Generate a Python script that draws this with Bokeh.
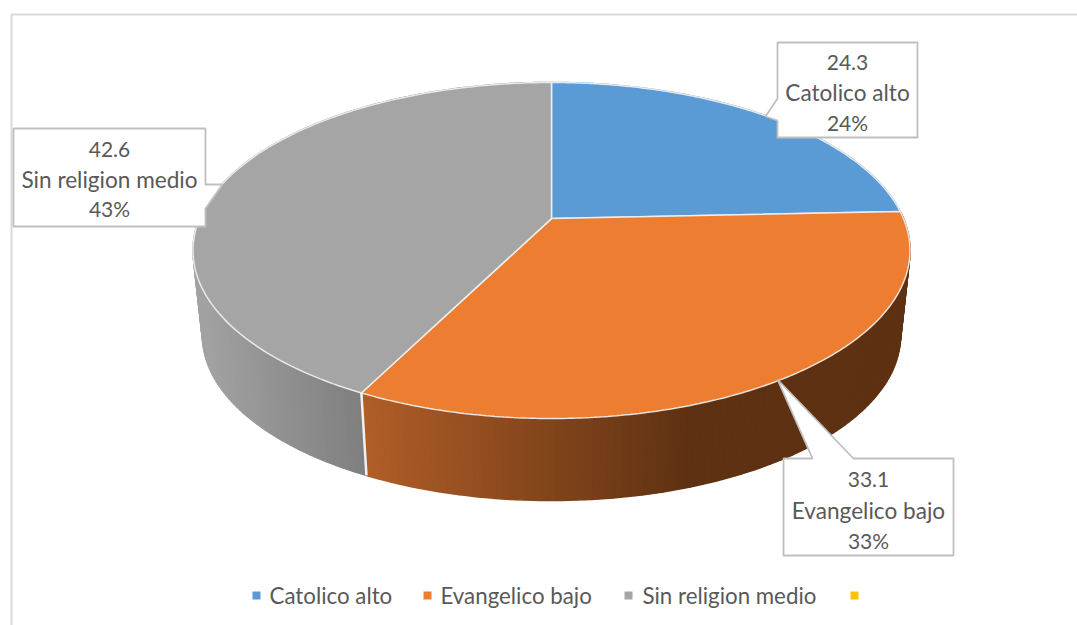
import numpy as np
from bokeh.plotting import figure
from bokeh.models import Range1d
from bokeh.core.properties import value
from bokeh.embed import file_html
from bokeh.resources import INLINE

categories = ["Catolico alto", "Evangelico bajo", "Sin religion medio", ""]
values = [24.3, 33.1, 42.6, 0.0]
percent_labels = ["24%", "33%", "43%"]
colors = ["#5B9BD5", "#ED7D31", "#A5A5A5", "#FFC000"]

W, H = 1077, 625
FONT = "Lato"
TXT = "#595959"
EDGE = "#BFBFBF"

# pie geometry in page pixels
CX, TOP_CY, TOP_RX, TOP_RY = 551.0, 250.0, 358.5, 168.0
BOT_CY, BOT_RX, BOT_RY = 335.0, 349.0, 165.0
K = 0.19  # perspective shift of the pie centre


def proj(theta, cy, rx, ry):
    """theta: radians clockwise from the top of the pie."""
    u, v = np.sin(theta), np.cos(theta)
    den = 1 + K * v
    uu = u * np.sqrt(1 - K * K) / den
    vv = (v + K) / den
    return CX + rx * uu, cy - ry * vv


def hex2rgb(h):
    return np.array([int(h[i:i + 2], 16) for i in (1, 3, 5)], float)


def mix(a, b, t):
    t = min(1.0, max(0.0, t))
    c = hex2rgb(a) * (1 - t) + hex2rgb(b) * t
    return "#%02x%02x%02x" % tuple(int(round(x)) for x in c)


def wall_color(i, x):
    if i == 1:
        return mix("#B05E27", "#5E3112", (x - 361) / 330)
    if i == 2:
        return mix("#A2A2A2", "#7E7E7E", (x - 200) / 165)
    return colors[i]


p = figure(width=W, height=H, output_backend="svg", toolbar_location=None,
           x_range=Range1d(0, W), y_range=Range1d(H, 0),
           x_axis_location=None, y_axis_location=None, tools="", min_border=0,
           outline_line_color=None, background_fill_color="white",
           border_fill_color="white")
p.grid.visible = False

# chart frame
p.line([11, 11, W], [H, 14, 14], line_color="#D9D9D9", line_width=2)

total = sum(values)
bounds = np.concatenate([[0], np.cumsum(values) / total * 2 * np.pi])

# side wall
wx, wy, wc = [], [], []
for i in range(3):
    a0, a1 = bounds[i], bounds[i + 1]
    n = max(2, int((a1 - a0) / np.radians(1.0)))
    t = np.linspace(a0, a1, n + 1)
    for j in range(n):
        th = np.array([t[j], t[j + 1]])
        xa, ya = proj(th, TOP_CY, TOP_RX, TOP_RY)
        xb, yb = proj(th[::-1], BOT_CY, BOT_RX, BOT_RY)
        wx.append(list(xa) + list(xb))
        wy.append(list(ya) + list(yb))
        wc.append(wall_color(i, float(xa.mean())))
p.patches(wx, wy, fill_color=wc, line_color=wc, line_width=1.6)

# light seam between wall sections
sx0, sy0 = proj(bounds[2], TOP_CY, TOP_RX, TOP_RY)
sx1, sy1 = proj(bounds[2], BOT_CY, BOT_RX, BOT_RY)
p.line([sx0, sx1], [sy0, sy1], line_color="#F0F0F0", line_width=2.5)

# top face
apex_y = TOP_CY - TOP_RY * K
for i in range(3):
    t = np.linspace(bounds[i], bounds[i + 1], 200)
    x, y = proj(t, TOP_CY, TOP_RX, TOP_RY)
    p.patch(np.r_[CX, x], np.r_[apex_y, y], fill_color=colors[i],
            line_color="#F2F2F2", line_width=1.5, line_alpha=0.9)

# data label call-outs: outline polygon and text centre
callouts = [
    dict(poly=[(777, 42), (917, 42), (917, 137), (777, 137), (777, 120), (765, 116), (777, 98)],
         cx=847, ys=[62, 92, 122]),
    dict(poly=[(783, 458), (812, 458), (777, 379), (853, 458), (953, 458), (953, 555), (783, 555)],
         cx=868, ys=[479, 510, 540]),
    dict(poly=[(13, 128), (205, 128), (205, 184), (222, 184), (205, 208), (205, 226), (13, 226)],
         cx=109, ys=[149, 179, 208]),
]
for i, c in enumerate(callouts):
    xs, ys = zip(*c["poly"])
    p.patch(list(xs), list(ys), fill_color="white", line_color=EDGE, line_width=1.8)
    for line, y, size in zip(["%.1f" % values[i], categories[i], percent_labels[i]],
                             c["ys"], ["21px", "22.6px", "21px"]):
        p.text([c["cx"]], [y], text=[line], text_font=value(FONT),
               text_font_size=size, text_color=TXT, text_align="center",
               text_baseline="middle")

# legend
marker_x = [256, 427, 628, 854]
text_x = [269, 440, 642]
legend_y = 595
p.scatter(marker_x, [legend_y] * 4, marker="square", size=8, fill_color=colors,
          line_color=None)
p.text(text_x, [legend_y] * 3, text=categories[:3], text_font=value(FONT),
       text_font_size="22.3px", text_color=TXT, text_align="left",
       text_baseline="middle")

open("out.html", "w").write(file_html(p, INLINE))
